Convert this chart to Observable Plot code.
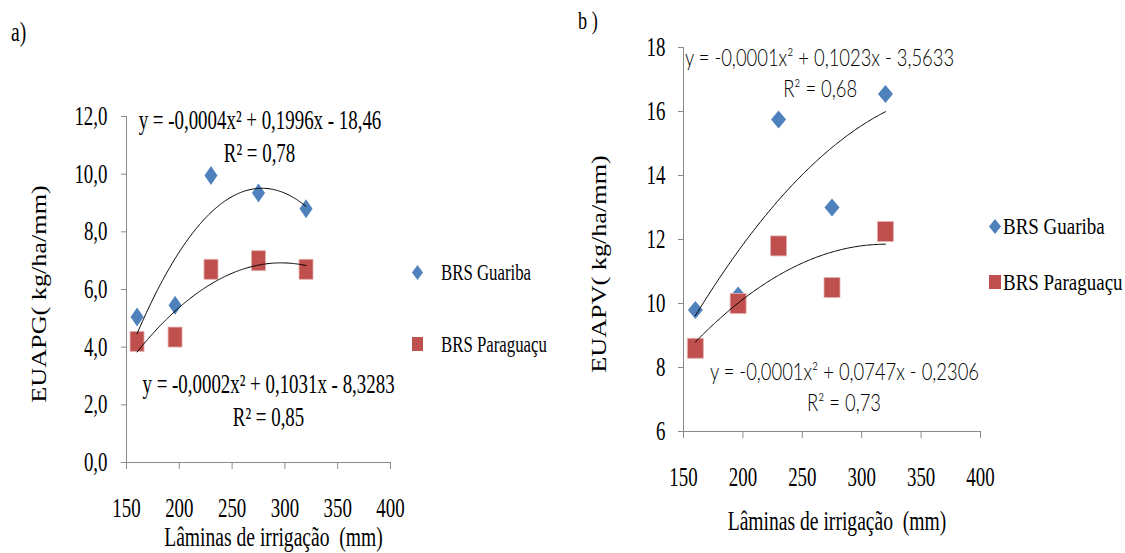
<!DOCTYPE html>
<html><head><meta charset="utf-8">
<script src="https://cdn.jsdelivr.net/npm/d3@7"></script>
<script src="https://cdn.jsdelivr.net/npm/@observablehq/plot@0.6"></script>
<style>
html,body{margin:0;padding:0;background:#fff;}
#root{position:relative;width:1125px;height:553px;overflow:hidden;background:#fff;}
.panel{position:absolute;top:0;}
.tag,.leg,.ylab{position:absolute;font-family:"Liberation Serif","Times New Roman",serif;color:#000;white-space:nowrap;line-height:1;}
.leg{display:flex;align-items:center;height:26px;}
.sq{display:inline-block;transform-origin:left center;}
.ylab{font-size:22px;}
</style></head><body><div id="root"></div>
<script>
// ---------------- data ----------------
const laminas = [160, 196, 230, 275, 320];
const cultivares = ["BRS Guariba", "BRS Paraguaçu"];
const euapgGuariba = [5.05, 5.45, 9.95, 9.35, 8.8];
const euapgParaguacu = [4.2, 4.35, 6.7, 7.0, 6.7];
const euapvGuariba = [9.8, 10.25, 15.75, 13.0, 16.55];
const euapvParaguacu = [8.6, 10.0, 11.8, 10.5, 12.25];
const xTicks = [150, 200, 250, 300, 350, 400];
const yTicksA = [0, 2, 4, 6, 8, 10, 12];
const yTicksB = [6, 8, 10, 12, 14, 16, 18];
const equacoesA = ["y = -0,0004x² + 0,1996x - 18,46", "R² = 0,78", "y = -0,0002x² + 0,1031x - 8,3283", "R² = 0,85"];
const equacoesB = ["y = -0,0001x² + 0,1023x - 3,5633", "R² = 0,68", "y = -0,0001x² + 0,0747x - 0,2306", "R² = 0,73"];
const xLabel = "Lâminas de irrigação\u00a0 (mm)";
const yLabelA = "EUAPG( kg/ha/mm)";
const yLabelB = "EUAPV( kg/ha/mm)";
const panelTags = ["a)", "b )"];
const colors = ["#4f81bd", "#c0504d"];

// ---------------- helpers ----------------
const SERIF = "Liberation Serif, Times New Roman, serif";
const SANS = "Lato, Open Sans, sans-serif";
const AXIS = "#8a8a8a";
const diamond = (w, h) => ({draw(c) { c.moveTo(0, -h / 2); c.lineTo(w / 2, 0); c.lineTo(0, h / 2); c.lineTo(-w / 2, 0); c.closePath(); }});
const rectSym = (w, h) => ({draw(c) { c.moveTo(-w / 2, -h / 2); c.lineTo(w / 2, -h / 2); c.lineTo(w / 2, h / 2); c.lineTo(-w / 2, h / 2); c.closePath(); }});
const rows = (ys) => laminas.map((x, i) => ({x, y: ys[i]}));

// least-squares quadratic trendline (as the spreadsheet did), over the data range
function trend(xs, ys) {
  const m = d3.mean(xs);
  const u = xs.map(x => (x - m) / 100);
  const S = k => d3.sum(u, v => v ** k);
  const T = k => d3.sum(u, (v, i) => ys[i] * v ** k);
  const A = [[S(0), S(1), S(2)], [S(1), S(2), S(3)], [S(2), S(3), S(4)]];
  const b = [T(0), T(1), T(2)];
  for (let i = 0; i < 3; i++) for (let j = i + 1; j < 3; j++) {
    const f = A[j][i] / A[i][i];
    for (let k = i; k < 3; k++) A[j][k] -= f * A[i][k];
    b[j] -= f * b[i];
  }
  const c = [0, 0, 0];
  for (let i = 2; i >= 0; i--) { let s = b[i]; for (let k = i + 1; k < 3; k++) s -= A[i][k] * c[k]; c[i] = s / A[i][i]; }
  const f = x => { const v = (x - m) / 100; return c[0] + c[1] * v + c[2] * v * v; };
  return d3.range(xs[0], xs[xs.length - 1] + 0.01, 1).map(x => ({x, y: f(x)}));
}

// horizontally condense text (reference glyphs are narrow/tall)
function squeeze(svg, sSerif, sSans) {
  svg.querySelectorAll("text").forEach(t => {
    let tr = t.getAttribute("transform") || "";
    const x = t.getAttribute("x");
    if (x != null && x !== "" && !isNaN(parseFloat(x))) { tr += ` translate(${parseFloat(x)},0)`; t.removeAttribute("x"); }
    const fam = (t.closest("[font-family]") || svg).getAttribute("font-family") || "";
    const k = /Lato/.test(fam) ? sSans : sSerif;
    t.setAttribute("transform", `${tr} scale(${k},1)`);
  });
}

const root = document.getElementById("root");

// ---------------- panel a ----------------
const plotA = Plot.plot({
  width: 560, height: 553,
  marginLeft: 126, marginRight: 170, marginTop: 116, marginBottom: 91,
  x: {domain: [150, 400]}, y: {domain: [0, 12]},
  style: {fontFamily: SERIF, fontSize: "27px", color: "#000", background: "transparent", overflow: "visible"},
  marks: [
    Plot.ruleX([150], {stroke: AXIS}),
    Plot.ruleY([0], {stroke: AXIS}),
    Plot.axisX({ticks: xTicks, tickSize: 7, tickPadding: 28, stroke: AXIS, tickFormat: d => `${d}`, label: null}),
    Plot.axisY({ticks: yTicksA, tickSize: 5, tickPadding: 14, stroke: AXIS, tickFormat: d => d.toFixed(1).replace(".", ","), label: null}),
    Plot.dot(rows(euapgGuariba), {x: "x", y: "y", symbol: diamond(13, 19), fill: colors[0]}),
    Plot.dot(rows(euapgParaguacu), {x: "x", y: "y", symbol: rectSym(14, 20), fill: colors[1], stroke: "#e3b3b2", strokeWidth: 0.8}),
    Plot.line(trend(laminas, euapgGuariba), {x: "x", y: "y", stroke: "#000", strokeWidth: 1}),
    Plot.line(trend(laminas, euapgParaguacu), {x: "x", y: "y", stroke: "#000", strokeWidth: 1}),
    Plot.text([equacoesA[0]], {text: d => d, x: 276.4, y: 11.86, fontSize: 27}),
    Plot.text([equacoesA[1]], {text: d => d, x: 276, y: 10.73, fontSize: 27}),
    Plot.text([equacoesA[2]], {text: d => d, x: 284.5, y: 2.71, fontSize: 27}),
    Plot.text([equacoesA[3]], {text: d => d, x: 284.5, y: 1.58, fontSize: 27}),
    Plot.text([xLabel], {text: d => d, frameAnchor: "bottom", dx: 15, dy: 83, fontSize: 28})
  ]
});
plotA.classList.add("panel");
plotA.style.left = "0px";
squeeze(plotA, 0.7, 0.8);
root.appendChild(plotA);

// ---------------- panel b ----------------
const plotB = Plot.plot({
  width: 565, height: 553,
  marginLeft: 123, marginRight: 145, marginTop: 47, marginBottom: 122,
  x: {domain: [150, 400]}, y: {domain: [6, 18]},
  style: {fontFamily: SERIF, fontSize: "27px", color: "#000", background: "transparent", overflow: "visible"},
  marks: [
    Plot.ruleX([150], {stroke: AXIS}),
    Plot.ruleY([6], {stroke: AXIS}),
    Plot.axisX({ticks: xTicks, tickSize: 7, tickPadding: 28, stroke: AXIS, tickFormat: d => `${d}`, label: null}),
    Plot.axisY({ticks: yTicksB, tickSize: 5, tickPadding: 13, stroke: AXIS, tickFormat: d => `${d}`, label: null}),
    Plot.dot(rows(euapvGuariba), {x: "x", y: "y", symbol: diamond(15, 18), fill: colors[0]}),
    Plot.dot(rows(euapvParaguacu), {x: "x", y: "y", symbol: rectSym(16, 20), fill: colors[1], stroke: "#e3b3b2", strokeWidth: 0.8}),
    Plot.line(trend(laminas, euapvGuariba), {x: "x", y: "y", stroke: "#000", strokeWidth: 1}),
    Plot.line(trend(laminas, euapvParaguacu), {x: "x", y: "y", stroke: "#000", strokeWidth: 1}),
    Plot.text([equacoesB[0]], {text: d => d, x: 264.5, y: 17.65, fontSize: 23, fontWeight: 300, fontFamily: SANS}),
    Plot.text([equacoesB[1]], {text: d => d, x: 265, y: 16.69, fontSize: 23, fontWeight: 300, fontFamily: SANS}),
    Plot.text([equacoesB[2]], {text: d => d, x: 285.5, y: 7.84, fontSize: 23, fontWeight: 300, fontFamily: SANS}),
    Plot.text([equacoesB[3]], {text: d => d, x: 285.1, y: 6.875, fontSize: 23, fontWeight: 300, fontFamily: SANS}),
    Plot.text([xLabel], {text: d => d, frameAnchor: "bottom", dx: 5, dy: 98, fontSize: 28})
  ]
});
plotB.classList.add("panel");
plotB.style.left = "560px";
squeeze(plotB, 0.7, 0.8);
root.appendChild(plotB);

// ---------------- axis titles, tags and legends ----------------
function ylab(text, cx, cy) {
  const d = document.createElement("div");
  d.className = "ylab";
  d.style.left = cx + "px"; d.style.top = cy + "px";
  d.style.transform = "translate(-50%,-50%) rotate(-90deg) scaleX(1.19)";
  d.textContent = text;
  root.appendChild(d);
}
ylab(yLabelA, 39, 294);
ylab(yLabelB, 599, 264);

function tag(text, left, top, size) {
  const d = document.createElement("div");
  d.className = "tag";
  d.style.left = left + "px"; d.style.top = top + "px"; d.style.fontSize = size + "px";
  d.innerHTML = `<span class="sq" style="transform:scaleX(0.7)"></span>`;
  d.firstChild.textContent = text;
  root.appendChild(d);
}
tag(panelTags[0], 11, 18, 28);
tag(panelTags[1], 578, 8, 26);

function legendItem(cx, cy, shape, color, label, w, h, gap, sx) {
  const d = document.createElement("div");
  d.className = "leg";
  d.style.left = (cx - w / 2) + "px"; d.style.top = (cy - 13) + "px"; d.style.fontSize = "24px";
  const pts = shape === "diamond" ? `<polygon points="${w/2},0 ${w},${h/2} ${w/2},${h} 0,${h/2}" fill="${color}"/>`
                                  : `<rect x="0" y="0" width="${w}" height="${h}" fill="${color}"/>`;
  d.innerHTML = `<svg width="${w}" height="${h}" style="flex:none">${pts}</svg><span class="sq" style="margin-left:${gap}px;transform:scaleX(${sx})"></span>`;
  d.lastChild.textContent = label;
  root.appendChild(d);
}
legendItem(417, 272, "diamond", colors[0], cultivares[0], 11, 15, 18, 0.7);
legendItem(417, 344, "square", colors[1], cultivares[1], 11, 14, 18, 0.7);
legendItem(995, 226, "diamond", colors[0], cultivares[0], 12, 15, 2, 0.79);
legendItem(995, 282, "square", colors[1], cultivares[1], 12, 14, 2, 0.79);
</script></body></html>
